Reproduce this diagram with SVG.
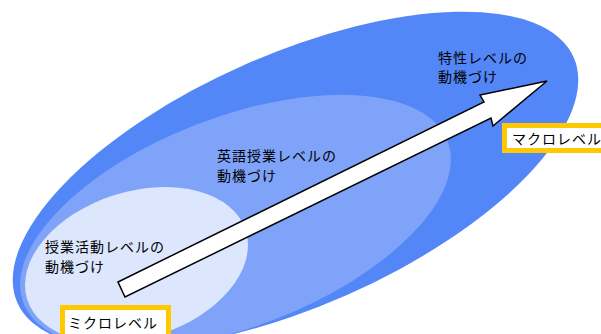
<svg xmlns="http://www.w3.org/2000/svg" width="601" height="334" viewBox="0 0 601 334">
<style>
.t{font-family:"Noto Sans CJK JP","Noto Sans CJK SC",sans-serif;font-size:14px;letter-spacing:1px;fill:#000}
.box{fill:#fff;stroke:#FFC800;stroke-width:5}
</style>
<rect width="601" height="334" fill="#fff"/>
<g id="outer"><ellipse cx="295.5" cy="180" rx="304" ry="126" transform="rotate(-23.8 295.5 180)" fill="#5387F8"/></g>
<g id="middle"><ellipse cx="235.5" cy="222" rx="227" ry="105" transform="rotate(-20.9 235.5 222)" fill="#7FA3F9"/></g>
<g id="inner"><ellipse cx="136.5" cy="265" rx="114.6" ry="73.3" transform="rotate(-17.5 136.5 265)" fill="#DCE6FD"/></g>
<g id="connectors">
<polygon points="118,282 484,102 480,95 547,81 493,126 491,118 125,297" fill="#fff" stroke="#000" stroke-width="1.5" stroke-linejoin="miter"/>
</g>
<g id="label-trait"><text class="t" x="438" y="63">特性レベルの</text><text class="t" x="438" y="82">動機づけ</text></g>
<g id="label-class"><text class="t" x="217" y="161">英語授業レベルの</text><text class="t" x="217" y="181">動機づけ</text></g>
<g id="label-activity"><text class="t" x="45" y="252">授業活動レベルの</text><text class="t" x="45" y="272">動機づけ</text></g>
<g id="micro"><rect class="box" x="62.5" y="307.5" width="106" height="32"/><text class="t" x="68" y="328">ミクロレベル</text></g>
<g id="macro"><rect class="box" x="504.5" y="125.5" width="104" height="25"/><text class="t" x="512" y="144">マクロレベル</text></g>
</svg>
